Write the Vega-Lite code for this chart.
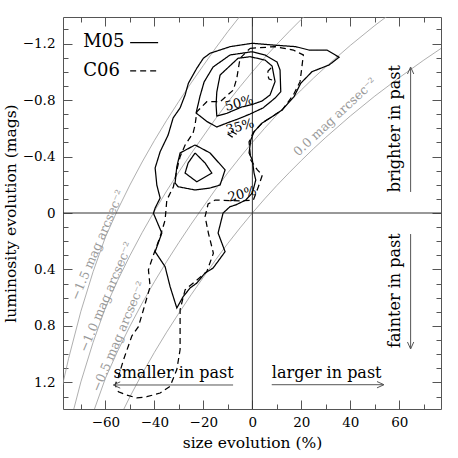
{
"$schema":"https://vega.github.io/schema/vega-lite/v6.json",
"width":378,"height":392,
"autosize":"none",
"padding":{"left":63,"top":17,"right":17,"bottom":49},
"config":{"font":"DejaVu Serif","view":{"stroke":"#555","strokeWidth":1},
"axis":{"labelFontSize":13.5,"titleFontSize":15.5,"titleFontWeight":"normal","labelColor":"#000","titleColor":"#000","tickColor":"#555","tickWidth":1,"domain":false,"grid":false,"labelFlush":false,"labelOverlap":false}},
"datasets":{
"curves":[
{"c":"-1.5","s":-78,"m":1.262},{"c":"-1.5","s":-77,"m":1.181},{"c":"-1.5","s":-75,"m":1.029},{"c":"-1.5","s":-70,"m":0.696},{"c":"-1.5","s":-65,"m":0.415},{"c":"-1.5","s":-60,"m":0.171},{"c":"-1.5","s":-55,"m":-0.022},{"c":"-1.5","s":-50,"m":-0.198},{"c":"-1.5","s":-45,"m":-0.361},{"c":"-1.5","s":-40,"m":-0.513},{"c":"-1.5","s":-35,"m":-0.656},{"c":"-1.5","s":-30,"m":-0.791},{"c":"-1.5","s":-25,"m":-0.921},{"c":"-1.5","s":-20,"m":-1.045},{"c":"-1.5","s":-15,"m":-1.168},{"c":"-1.5","s":-10,"m":-1.285},{"c":"-1.5","s":-5,"m":-1.395},{"c":"-1.5","s":0,"m":-1.5},
{"c":"-1.0","s":-78,"m":1.762},{"c":"-1.0","s":-77,"m":1.681},{"c":"-1.0","s":-75,"m":1.529},{"c":"-1.0","s":-70,"m":1.196},{"c":"-1.0","s":-65,"m":0.915},{"c":"-1.0","s":-60,"m":0.671},{"c":"-1.0","s":-55,"m":0.478},{"c":"-1.0","s":-50,"m":0.302},{"c":"-1.0","s":-45,"m":0.139},{"c":"-1.0","s":-40,"m":-0.013},{"c":"-1.0","s":-35,"m":-0.156},{"c":"-1.0","s":-30,"m":-0.291},{"c":"-1.0","s":-25,"m":-0.421},{"c":"-1.0","s":-20,"m":-0.545},{"c":"-1.0","s":-15,"m":-0.668},{"c":"-1.0","s":-10,"m":-0.785},{"c":"-1.0","s":-5,"m":-0.895},{"c":"-1.0","s":0,"m":-1.0},{"c":"-1.0","s":5,"m":-1.1},{"c":"-1.0","s":10,"m":-1.195},{"c":"-1.0","s":15,"m":-1.285},{"c":"-1.0","s":20,"m":-1.372},{"c":"-1.0","s":25,"m":-1.456},
{"c":"-0.5","s":-70,"m":1.696},{"c":"-0.5","s":-65,"m":1.415},{"c":"-0.5","s":-60,"m":1.171},{"c":"-0.5","s":-55,"m":0.978},{"c":"-0.5","s":-50,"m":0.802},{"c":"-0.5","s":-45,"m":0.639},{"c":"-0.5","s":-40,"m":0.487},{"c":"-0.5","s":-35,"m":0.344},{"c":"-0.5","s":-30,"m":0.209},{"c":"-0.5","s":-25,"m":0.079},{"c":"-0.5","s":-20,"m":-0.045},{"c":"-0.5","s":-15,"m":-0.168},{"c":"-0.5","s":-10,"m":-0.285},{"c":"-0.5","s":-5,"m":-0.395},{"c":"-0.5","s":0,"m":-0.5},{"c":"-0.5","s":5,"m":-0.6},{"c":"-0.5","s":10,"m":-0.695},{"c":"-0.5","s":15,"m":-0.785},{"c":"-0.5","s":20,"m":-0.872},{"c":"-0.5","s":25,"m":-0.956},{"c":"-0.5","s":30,"m":-1.036},{"c":"-0.5","s":40,"m":-1.187},{"c":"-0.5","s":50,"m":-1.328},{"c":"-0.5","s":60,"m":-1.459},
{"c":"0.0","s":-60,"m":1.671},{"c":"0.0","s":-55,"m":1.478},{"c":"0.0","s":-50,"m":1.302},{"c":"0.0","s":-45,"m":1.139},{"c":"0.0","s":-40,"m":0.987},{"c":"0.0","s":-35,"m":0.844},{"c":"0.0","s":-30,"m":0.709},{"c":"0.0","s":-25,"m":0.579},{"c":"0.0","s":-20,"m":0.455},{"c":"0.0","s":-15,"m":0.332},{"c":"0.0","s":-10,"m":0.215},{"c":"0.0","s":-5,"m":0.105},{"c":"0.0","s":0,"m":0},{"c":"0.0","s":5,"m":-0.1},{"c":"0.0","s":10,"m":-0.195},{"c":"0.0","s":15,"m":-0.285},{"c":"0.0","s":20,"m":-0.372},{"c":"0.0","s":25,"m":-0.456},{"c":"0.0","s":30,"m":-0.536},{"c":"0.0","s":40,"m":-0.687},{"c":"0.0","s":50,"m":-0.828},{"c":"0.0","s":60,"m":-0.959},{"c":"0.0","s":70,"m":-1.083},{"c":"0.0","s":78,"m":-1.177}
],
"contours":[
{"set":"M05","id":"M20","i":0,"s":0,"m":-1.202},{"set":"M05","id":"M20","i":1,"s":8.04,"m":-1.19},{"set":"M05","id":"M20","i":2,"s":17.71,"m":-1.178},{"set":"M05","id":"M20","i":3,"s":23.13,"m":-1.154},{"set":"M05","id":"M20","i":4,"s":30.47,"m":-1.154},{"set":"M05","id":"M20","i":5,"s":35.37,"m":-1.103},{"set":"M05","id":"M20","i":6,"s":31.29,"m":-1.048},{"set":"M05","id":"M20","i":7,"s":24.36,"m":-1.001},{"set":"M05","id":"M20","i":8,"s":19.75,"m":-0.919},{"set":"M05","id":"M20","i":9,"s":17.01,"m":-0.824},{"set":"M05","id":"M20","i":10,"s":12.12,"m":-0.729},{"set":"M05","id":"M20","i":11,"s":8.04,"m":-0.682},{"set":"M05","id":"M20","i":12,"s":3.96,"m":-0.637},{"set":"M05","id":"M20","i":13,"s":0.69,"m":-0.576},{"set":"M05","id":"M20","i":14,"s":-0.65,"m":-0.517},{"set":"M05","id":"M20","i":15,"s":-1.35,"m":-0.425},{"set":"M05","id":"M20","i":16,"s":0,"m":-0.375},{"set":"M05","id":"M20","i":17,"s":0.69,"m":-0.283},{"set":"M05","id":"M20","i":18,"s":1.39,"m":-0.234},{"set":"M05","id":"M20","i":19,"s":0,"m":-0.142},{"set":"M05","id":"M20","i":20,"s":-2.69,"m":-0.092},{"set":"M05","id":"M20","i":21,"s":-6.77,"m":-0.057},{"set":"M05","id":"M20","i":22,"s":-9.1,"m":-0.045},{"set":"M05","id":"M20","i":23,"s":-11.95,"m":0},{"set":"M05","id":"M20","i":24,"s":-13.99,"m":0.142},{"set":"M05","id":"M20","i":25,"s":-11.14,"m":0.274},{"set":"M05","id":"M20","i":26,"s":-16.03,"m":0.39},{"set":"M05","id":"M20","i":27,"s":-19.3,"m":0.425},{"set":"M05","id":"M20","i":28,"s":-22.68,"m":0.496},{"set":"M05","id":"M20","i":29,"s":-25.42,"m":0.531},{"set":"M05","id":"M20","i":30,"s":-28.27,"m":0.593},{"set":"M05","id":"M20","i":31,"s":-30.84,"m":0.673},{"set":"M05","id":"M20","i":32,"s":-33.57,"m":0.522},{"set":"M05","id":"M20","i":33,"s":-35.62,"m":0.38},{"set":"M05","id":"M20","i":34,"s":-39.69,"m":0.274},{"set":"M05","id":"M20","i":35,"s":-36.96,"m":0.142},{"set":"M05","id":"M20","i":36,"s":-40.39,"m":0.002},{"set":"M05","id":"M20","i":37,"s":-39.69,"m":-0.035},{"set":"M05","id":"M20","i":38,"s":-37.65,"m":-0.106},{"set":"M05","id":"M20","i":39,"s":-39,"m":-0.198},{"set":"M05","id":"M20","i":40,"s":-39.69,"m":-0.319},{"set":"M05","id":"M20","i":41,"s":-37.65,"m":-0.434},{"set":"M05","id":"M20","i":42,"s":-34.39,"m":-0.552},{"set":"M05","id":"M20","i":43,"s":-32.35,"m":-0.673},{"set":"M05","id":"M20","i":44,"s":-29.5,"m":-0.744},{"set":"M05","id":"M20","i":45,"s":-27.46,"m":-0.836},{"set":"M05","id":"M20","i":46,"s":-26.11,"m":-0.919},{"set":"M05","id":"M20","i":47,"s":-22.68,"m":-1.025},{"set":"M05","id":"M20","i":48,"s":-19.99,"m":-1.096},{"set":"M05","id":"M20","i":49,"s":-17.26,"m":-1.131},{"set":"M05","id":"M20","i":50,"s":-9.1,"m":-1.178},{"set":"M05","id":"M20","i":51,"s":0,"m":-1.202},
{"set":"M05","id":"M35a","i":0,"s":-0.24,"m":-1.142},{"set":"M05","id":"M35a","i":1,"s":5.18,"m":-1.119},{"set":"M05","id":"M35a","i":2,"s":10.08,"m":-1.069},{"set":"M05","id":"M35a","i":3,"s":11.3,"m":-1.013},{"set":"M05","id":"M35a","i":4,"s":11.59,"m":-0.859},{"set":"M05","id":"M35a","i":5,"s":9.26,"m":-0.814},{"set":"M05","id":"M35a","i":6,"s":4.37,"m":-0.744},{"set":"M05","id":"M35a","i":7,"s":-0.94,"m":-0.701},{"set":"M05","id":"M35a","i":8,"s":-5.83,"m":-0.666},{"set":"M05","id":"M35a","i":9,"s":-10.44,"m":-0.637},{"set":"M05","id":"M35a","i":10,"s":-14.52,"m":-0.609},{"set":"M05","id":"M35a","i":11,"s":-18.48,"m":-0.647},{"set":"M05","id":"M35a","i":12,"s":-22.97,"m":-0.708},{"set":"M05","id":"M35a","i":13,"s":-21.34,"m":-0.829},{"set":"M05","id":"M35a","i":14,"s":-19.7,"m":-0.928},{"set":"M05","id":"M35a","i":15,"s":-16.03,"m":-1.034},{"set":"M05","id":"M35a","i":16,"s":-9.1,"m":-1.119},{"set":"M05","id":"M35a","i":17,"s":-0.24,"m":-1.142},
{"set":"M05","id":"M50a","i":0,"s":-0.94,"m":-1.107},{"set":"M05","id":"M50a","i":1,"s":5.18,"m":-1.083},{"set":"M05","id":"M50a","i":2,"s":8.04,"m":-1.041},{"set":"M05","id":"M50a","i":3,"s":9.26,"m":-0.93},{"set":"M05","id":"M50a","i":4,"s":7.22,"m":-0.836},{"set":"M05","id":"M50a","i":5,"s":3.96,"m":-0.793},{"set":"M05","id":"M50a","i":6,"s":-0.12,"m":-0.768},{"set":"M05","id":"M50a","i":7,"s":-4.32,"m":-0.751},{"set":"M05","id":"M50a","i":8,"s":-10.44,"m":-0.706},{"set":"M05","id":"M50a","i":9,"s":-14.52,"m":-0.687},{"set":"M05","id":"M50a","i":10,"s":-14.81,"m":-0.765},{"set":"M05","id":"M50a","i":11,"s":-14.52,"m":-0.857},{"set":"M05","id":"M50a","i":12,"s":-13.18,"m":-0.977},{"set":"M05","id":"M50a","i":13,"s":-5.83,"m":-1.096},{"set":"M05","id":"M50a","i":14,"s":-0.94,"m":-1.107},
{"set":"M05","id":"M35b","i":0,"s":-23.38,"m":-0.482},{"set":"M05","id":"M35b","i":1,"s":-17.26,"m":-0.425},{"set":"M05","id":"M35b","i":2,"s":-11.14,"m":-0.305},{"set":"M05","id":"M35b","i":3,"s":-13.18,"m":-0.198},{"set":"M05","id":"M35b","i":4,"s":-17.26,"m":-0.177},{"set":"M05","id":"M35b","i":5,"s":-23.38,"m":-0.163},{"set":"M05","id":"M35b","i":6,"s":-30.31,"m":-0.186},{"set":"M05","id":"M35b","i":7,"s":-31.54,"m":-0.212},{"set":"M05","id":"M35b","i":8,"s":-30.84,"m":-0.328},{"set":"M05","id":"M35b","i":9,"s":-29.5,"m":-0.425},{"set":"M05","id":"M35b","i":10,"s":-23.38,"m":-0.482},
{"set":"M05","id":"M50b","i":0,"s":-23.38,"m":-0.425},{"set":"M05","id":"M50b","i":1,"s":-19.3,"m":-0.354},{"set":"M05","id":"M50b","i":2,"s":-16.56,"m":-0.283},{"set":"M05","id":"M50b","i":3,"s":-22.68,"m":-0.221},{"set":"M05","id":"M50b","i":4,"s":-27.46,"m":-0.283},{"set":"M05","id":"M50b","i":5,"s":-26.23,"m":-0.354},{"set":"M05","id":"M50b","i":6,"s":-23.38,"m":-0.425},
{"set":"C06","id":"C20","i":0,"s":-0.94,"m":-1.166},{"set":"C06","id":"C20","i":1,"s":9.26,"m":-1.178},{"set":"C06","id":"C20","i":2,"s":16.73,"m":-1.154},{"set":"C06","id":"C20","i":3,"s":20.81,"m":-1.119},{"set":"C06","id":"C20","i":4,"s":20.15,"m":-1.025},{"set":"C06","id":"C20","i":5,"s":19.46,"m":-0.93},{"set":"C06","id":"C20","i":6,"s":16.73,"m":-0.836},{"set":"C06","id":"C20","i":7,"s":12.12,"m":-0.729},{"set":"C06","id":"C20","i":8,"s":8.04,"m":-0.682},{"set":"C06","id":"C20","i":9,"s":3.96,"m":-0.637},{"set":"C06","id":"C20","i":10,"s":0.29,"m":-0.567},{"set":"C06","id":"C20","i":11,"s":-1.35,"m":-0.503},{"set":"C06","id":"C20","i":12,"s":-0.65,"m":-0.375},{"set":"C06","id":"C20","i":13,"s":2.04,"m":-0.305},{"set":"C06","id":"C20","i":14,"s":4.08,"m":-0.269},{"set":"C06","id":"C20","i":15,"s":2.45,"m":-0.186},{"set":"C06","id":"C20","i":16,"s":0.41,"m":-0.092},{"set":"C06","id":"C20","i":17,"s":-5.02,"m":-0.085},{"set":"C06","id":"C20","i":18,"s":-15.22,"m":-0.092},{"set":"C06","id":"C20","i":19,"s":-18.07,"m":-0.064},{"set":"C06","id":"C20","i":20,"s":-19.3,"m":0.026},{"set":"C06","id":"C20","i":21,"s":-17.95,"m":0.142},{"set":"C06","id":"C20","i":22,"s":-15.91,"m":0.285},{"set":"C06","id":"C20","i":23,"s":-18.6,"m":0.416},{"set":"C06","id":"C20","i":24,"s":-23.38,"m":0.485},{"set":"C06","id":"C20","i":25,"s":-27.46,"m":0.544},{"set":"C06","id":"C20","i":26,"s":-29.5,"m":0.685},{"set":"C06","id":"C20","i":27,"s":-29.5,"m":0.826},{"set":"C06","id":"C20","i":28,"s":-29.5,"m":0.967},{"set":"C06","id":"C20","i":29,"s":-30.84,"m":1.109},{"set":"C06","id":"C20","i":30,"s":-33.57,"m":1.227},{"set":"C06","id":"C20","i":31,"s":-37.65,"m":1.275},{"set":"C06","id":"C20","i":32,"s":-43.08,"m":1.301},{"set":"C06","id":"C20","i":33,"s":-47.16,"m":1.31},{"set":"C06","id":"C20","i":34,"s":-51.24,"m":1.289},{"set":"C06","id":"C20","i":35,"s":-54.67,"m":1.266},{"set":"C06","id":"C20","i":36,"s":-56.01,"m":1.218},{"set":"C06","id":"C20","i":37,"s":-54.67,"m":1.159},{"set":"C06","id":"C20","i":38,"s":-52.63,"m":1.041},{"set":"C06","id":"C20","i":39,"s":-49.2,"m":0.871},{"set":"C06","id":"C20","i":40,"s":-46.51,"m":0.805},{"set":"C06","id":"C20","i":41,"s":-44.47,"m":0.685},{"set":"C06","id":"C20","i":42,"s":-41.73,"m":0.52},{"set":"C06","id":"C20","i":43,"s":-42.43,"m":0.403},{"set":"C06","id":"C20","i":44,"s":-40.39,"m":0.297},{"set":"C06","id":"C20","i":45,"s":-37.65,"m":0.168},{"set":"C06","id":"C20","i":46,"s":-35.62,"m":0.05},{"set":"C06","id":"C20","i":47,"s":-34.92,"m":-0.092},{"set":"C06","id":"C20","i":48,"s":-32.23,"m":-0.186},{"set":"C06","id":"C20","i":49,"s":-30.84,"m":-0.305},{"set":"C06","id":"C20","i":50,"s":-29.5,"m":-0.399},{"set":"C06","id":"C20","i":51,"s":-27.46,"m":-0.481},{"set":"C06","id":"C20","i":52,"s":-24.19,"m":-0.567},{"set":"C06","id":"C20","i":53,"s":-23.38,"m":-0.623},{"set":"C06","id":"C20","i":54,"s":-22.68,"m":-0.717},{"set":"C06","id":"C20","i":55,"s":-18.6,"m":-0.788},{"set":"C06","id":"C20","i":56,"s":-13.18,"m":-0.788},{"set":"C06","id":"C20","i":57,"s":-7.75,"m":-0.871},{"set":"C06","id":"C20","i":58,"s":-6.36,"m":-0.954},{"set":"C06","id":"C20","i":59,"s":-5.02,"m":-1.096},{"set":"C06","id":"C20","i":60,"s":-0.94,"m":-1.166},
{"set":"C06","id":"C35","i":0,"s":7.63,"m":-1.027},{"set":"C06","id":"C35","i":1,"s":6.4,"m":-1.006},{"set":"C06","id":"C35","i":2,"s":6.2,"m":-0.977},{"set":"C06","id":"C35","i":3,"s":6.81,"m":-0.949},{"set":"C06","id":"C35","i":4,"s":8.04,"m":-0.942},
{"set":"C06","id":"C50","i":0,"s":-8.69,"m":-0.581},{"set":"C06","id":"C50","i":1,"s":-6.65,"m":-0.559},{"set":"C06","id":"C50","i":2,"s":-8.28,"m":-0.538},{"set":"C06","id":"C50","i":3,"s":-9.91,"m":-0.559},{"set":"C06","id":"C50","i":4,"s":-8.69,"m":-0.581}
],
"legendtext":[{"t":"M05","s":-69.07,"m":-1.211},{"t":"C06","s":-69.07,"m":-1.006}],
"legendlines":[{"set":"M05","s1":-49.89,"s2":-38.47,"m":-1.206},{"set":"C06","s1":-49.89,"s2":-38.47,"m":-1.006}],
"clabels":[{"t":"50%","s":-5.34,"m":-0.777},{"t":"35%","s":-5.02,"m":-0.611},{"t":"20%","s":-4.2,"m":-0.133}],
"glabels":[{"t":"−1.5 mag arcsec⁻²","s":-63.18,"m":0.227,"g":"a"},{"t":"−1.0 mag arcsec⁻²","s":-59.68,"m":0.595,"g":"a"},{"t":"−0.5 mag arcsec⁻²","s":-54.58,"m":0.876,"g":"a"},{"t":"0.0 mag arcsec⁻²","s":33.74,"m":-0.68,"g":"b"}],
"shafts":[{"s1":-7.87,"s2":-56.5,"m1":1.218,"m2":1.218},{"s1":7.91,"s2":53.5,"m1":1.216,"m2":1.216},{"s1":64.6,"s2":64.6,"m1":-0.149,"m2":-1.03},{"s1":64.6,"s2":64.6,"m1":0.149,"m2":0.96}],
"heads":[{"dir":"left","s":-56.8,"m":1.218},{"dir":"right","s":53.73,"m":1.216},{"dir":"up","s":64.6,"m":-1.034},{"dir":"down","s":64.6,"m":0.963}],
"notes":[{"t":"smaller in past","s":-32.15,"m":1.165,"o":"h"},{"t":"larger in past","s":30.35,"m":1.171,"o":"h"},{"t":"brighter in past","s":60.2,"m":-0.597,"o":"v"},{"t":"fainter in past","s":60.2,"m":0.55,"o":"v"}]
},
"layer":[
{"data":{"name":"curves"},"mark":{"type":"line","clip":true,"strokeWidth":0.8,"color":"#9a9a9a"},
 "encoding":{"x":{"field":"s","type":"quantitative","scale":{"domain":[-77.3,77.0],"nice":false,"zero":false},
   "axis":{"orient":"bottom","values":[-60,-40,-20,0,20,40,60],"tickSize":-9,"labelPadding":15,"title":"size evolution (%)","titlePadding":7}},
  "y":{"field":"m","type":"quantitative","scale":{"domain":[-1.388,1.388],"nice":false,"zero":false,"reverse":true},
   "axis":{"orient":"left","values":[-1.2,-0.8,-0.4,0,0.4,0.8,1.2],"format":".1~f","tickSize":-9,"labelPadding":17,"title":"luminosity evolution (mags)","titlePadding":4}},
  "detail":{"field":"c"}}},
{"data":{"values":[{}]},"mark":{"type":"rule","color":"#333","strokeWidth":1},
 "encoding":{"x":{"datum":0,"type":"quantitative","scale":{"domain":[-77.3,77.0],"nice":false,"zero":false},"axis":null}}},
{"data":{"values":[{}]},"mark":{"type":"rule","color":"#333","strokeWidth":1},
 "encoding":{"y":{"datum":0,"type":"quantitative","scale":{"domain":[-1.388,1.388],"nice":false,"zero":false,"reverse":true},"axis":null}}},
{"data":{"name":"contours"},"mark":{"type":"line","strokeWidth":1.25,"color":"#000"},
 "encoding":{"x":{"field":"s","type":"quantitative","scale":{"domain":[-77.3,77.0],"nice":false,"zero":false},
   "axis":{"orient":"bottom","values":[-70,-50,-30,-10,10,30,50,70],"tickSize":-5,"labels":false,"title":null}},
  "y":{"field":"m","type":"quantitative","scale":{"domain":[-1.388,1.388],"nice":false,"zero":false,"reverse":true},
   "axis":{"orient":"left","values":[-1.3,-1.1,-1.0,-0.9,-0.7,-0.6,-0.5,-0.3,-0.2,-0.1,0.1,0.2,0.3,0.5,0.6,0.7,0.9,1.0,1.1,1.3],"tickSize":-5,"labels":false,"title":null}},
  "detail":{"field":"id"},"order":{"field":"i","type":"quantitative"},
  "strokeDash":{"field":"set","type":"nominal","scale":{"domain":["M05","C06"],"range":[[1,0],[6,4]]},"legend":null}}},
{"data":{"name":"legendlines"},"mark":{"type":"rule","strokeWidth":1.25,"color":"#000"},
 "encoding":{"x":{"field":"s1","type":"quantitative","scale":{"domain":[-77.3,77.0],"nice":false,"zero":false},
   "axis":{"orient":"top","values":[-60,-40,-20,0,20,40,60],"tickSize":-9,"labels":false,"title":null}},
  "x2":{"field":"s2"},
  "y":{"field":"m","type":"quantitative","scale":{"domain":[-1.388,1.388],"nice":false,"zero":false,"reverse":true},
   "axis":{"orient":"right","values":[-1.2,-0.8,-0.4,0,0.4,0.8,1.2],"tickSize":-9,"labels":false,"title":null}},
  "strokeDash":{"field":"set","type":"nominal","scale":{"domain":["M05","C06"],"range":[[1,0],[6,4]]},"legend":null}}},
{"data":{"name":"legendtext"},"mark":{"type":"text","fontSize":18,"align":"left","baseline":"middle","color":"#000"},
 "encoding":{"x":{"field":"s","type":"quantitative","scale":{"domain":[-77.3,77.0],"nice":false,"zero":false},
   "axis":{"orient":"top","values":[-70,-50,-30,-10,10,30,50,70],"tickSize":-5,"labels":false,"title":null}},
  "y":{"field":"m","type":"quantitative","scale":{"domain":[-1.388,1.388],"nice":false,"zero":false,"reverse":true},
   "axis":{"orient":"right","values":[-1.3,-1.1,-1.0,-0.9,-0.7,-0.6,-0.5,-0.3,-0.2,-0.1,0.1,0.2,0.3,0.5,0.6,0.7,0.9,1.0,1.1,1.3],"tickSize":-5,"labels":false,"title":null}},
  "text":{"field":"t"}}},
{"data":{"name":"clabels"},"mark":{"type":"text","fontSize":13,"angle":-15,"align":"center","baseline":"middle","color":"#000"},
 "encoding":{"x":{"field":"s","type":"quantitative","scale":{"domain":[-77.3,77.0],"nice":false,"zero":false},"axis":null},
  "y":{"field":"m","type":"quantitative","scale":{"domain":[-1.388,1.388],"nice":false,"zero":false,"reverse":true},"axis":null},
  "text":{"field":"t"}}},
{"data":{"name":"glabels"},"transform":[{"filter":"datum.g==='a'"}],"mark":{"type":"text","fontSize":12.5,"angle":-67,"align":"center","baseline":"middle","color":"#999"},
 "encoding":{"x":{"field":"s","type":"quantitative","scale":{"domain":[-77.3,77.0],"nice":false,"zero":false},"axis":null},
  "y":{"field":"m","type":"quantitative","scale":{"domain":[-1.388,1.388],"nice":false,"zero":false,"reverse":true},"axis":null},
  "text":{"field":"t"}}},
{"data":{"name":"glabels"},"transform":[{"filter":"datum.g==='b'"}],"mark":{"type":"text","fontSize":12.5,"angle":-43,"align":"center","baseline":"middle","color":"#999"},
 "encoding":{"x":{"field":"s","type":"quantitative","scale":{"domain":[-77.3,77.0],"nice":false,"zero":false},"axis":null},
  "y":{"field":"m","type":"quantitative","scale":{"domain":[-1.388,1.388],"nice":false,"zero":false,"reverse":true},"axis":null},
  "text":{"field":"t"}}},
{"data":{"name":"shafts"},"mark":{"type":"rule","color":"#555","strokeWidth":1},
 "encoding":{"x":{"field":"s1","type":"quantitative","scale":{"domain":[-77.3,77.0],"nice":false,"zero":false},"axis":null},"x2":{"field":"s2"},
  "y":{"field":"m1","type":"quantitative","scale":{"domain":[-1.388,1.388],"nice":false,"zero":false,"reverse":true},"axis":null},"y2":{"field":"m2"}}},
{"data":{"name":"heads"},"mark":{"type":"point","filled":false,"color":"#555","strokeWidth":1,"size":196,"opacity":1},
 "encoding":{"x":{"field":"s","type":"quantitative","scale":{"domain":[-77.3,77.0],"nice":false,"zero":false},"axis":null},
  "y":{"field":"m","type":"quantitative","scale":{"domain":[-1.388,1.388],"nice":false,"zero":false,"reverse":true},"axis":null},
  "shape":{"field":"dir","type":"nominal","scale":{"domain":["left","right","up","down"],"range":["M1,-0.45L0,0L1,0.45","M-1,-0.45L0,0L-1,0.45","M-0.45,1L0,0L0.45,1","M-0.45,-1L0,0L0.45,-1"]},"legend":null}}},
{"data":{"name":"notes"},"transform":[{"filter":"datum.o==='h'"}],"mark":{"type":"text","fontSize":16,"align":"center","baseline":"alphabetic","color":"#000"},
 "encoding":{"x":{"field":"s","type":"quantitative","scale":{"domain":[-77.3,77.0],"nice":false,"zero":false},"axis":null},
  "y":{"field":"m","type":"quantitative","scale":{"domain":[-1.388,1.388],"nice":false,"zero":false,"reverse":true},"axis":null},
  "text":{"field":"t"}}},
{"data":{"name":"notes"},"transform":[{"filter":"datum.o==='v'"}],"mark":{"type":"text","fontSize":16,"angle":-90,"align":"center","baseline":"alphabetic","color":"#000"},
 "encoding":{"x":{"field":"s","type":"quantitative","scale":{"domain":[-77.3,77.0],"nice":false,"zero":false},"axis":null},
  "y":{"field":"m","type":"quantitative","scale":{"domain":[-1.388,1.388],"nice":false,"zero":false,"reverse":true},"axis":null},
  "text":{"field":"t"}}}
],
"resolve":{"axis":{"x":"independent","y":"independent"}}
}
